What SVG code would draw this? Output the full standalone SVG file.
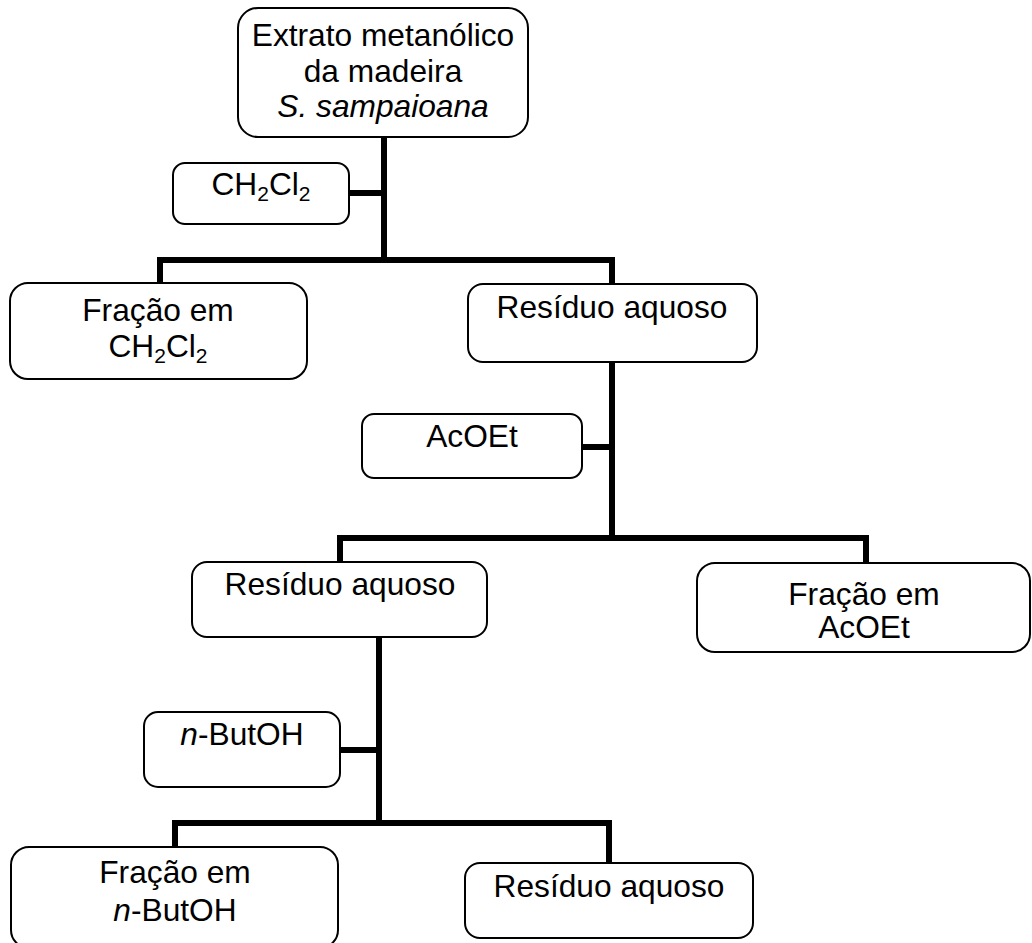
<svg xmlns="http://www.w3.org/2000/svg" width="1032" height="943" viewBox="0 0 1032 943">
  <style>
    .box { fill: #ffffff; stroke: #000000; stroke-width: 2; }
    .lbl { font-family: "Liberation Sans", Arial, sans-serif; font-size: 31.7px; fill: #000000; text-anchor: middle; }
    .sub { font-size: 21px; }
    .wire { fill: none; stroke: #000000; stroke-width: 6; stroke-linejoin: miter; stroke-linecap: butt; }
  </style>

  <!-- connectors -->
  <g id="connectors">
    <path class="wire" d="M384,137 V263"/>
    <path class="wire" d="M349,193 H384"/>
    <path class="wire" d="M160,284 V260 H612 V284"/>
    <path class="wire" d="M612,362 V541"/>
    <path class="wire" d="M582,447 H612"/>
    <path class="wire" d="M340,562 V538 H866 V563"/>
    <path class="wire" d="M379,637 V826"/>
    <path class="wire" d="M340,750 H379"/>
    <path class="wire" d="M175,847 V823 H609 V863"/>
  </g>

  <g id="extrato">
    <rect class="box" x="238" y="8" width="290" height="129" rx="20"/>
    <text class="lbl" x="383" y="46">Extrato metanólico</text>
    <text class="lbl" x="383" y="82">da madeira</text>
    <text class="lbl" x="383" y="117" font-style="italic">S. sampaioana</text>
  </g>

  <g id="solvente-ch2cl2">
    <rect class="box" x="173" y="163" width="176" height="61" rx="12"/>
    <text class="lbl" x="261" y="195">CH<tspan class="sub" dy="6">2</tspan><tspan dy="-6">Cl</tspan><tspan class="sub" dy="6">2</tspan></text>
  </g>

  <g id="fracao-ch2cl2">
    <rect class="box" x="10" y="283" width="297" height="96" rx="18"/>
    <text class="lbl" x="158" y="321">Fração em</text>
    <text class="lbl" x="158" y="357">CH<tspan class="sub" dy="6">2</tspan><tspan dy="-6">Cl</tspan><tspan class="sub" dy="6">2</tspan></text>
  </g>

  <g id="residuo-1">
    <rect class="box" x="468" y="284" width="289" height="78" rx="15"/>
    <text class="lbl" x="612" y="318">Resíduo aquoso</text>
  </g>

  <g id="solvente-acoet">
    <rect class="box" x="362" y="414" width="220" height="64" rx="12"/>
    <text class="lbl" x="472" y="447">AcOEt</text>
  </g>

  <g id="residuo-2">
    <rect class="box" x="192" y="562" width="295" height="75" rx="15"/>
    <text class="lbl" x="340" y="595">Resíduo aquoso</text>
  </g>

  <g id="fracao-acoet">
    <rect class="box" x="697" y="563" width="333" height="89" rx="18"/>
    <text class="lbl" x="864" y="605">Fração em</text>
    <text class="lbl" x="864" y="638">AcOEt</text>
  </g>

  <g id="solvente-butoh">
    <rect class="box" x="144" y="712" width="196" height="75" rx="14"/>
    <text class="lbl" x="242" y="745"><tspan font-style="italic">n</tspan>-ButOH</text>
  </g>

  <g id="fracao-butoh">
    <rect class="box" x="11" y="847" width="327" height="101" rx="18"/>
    <text class="lbl" x="175" y="883">Fração em</text>
    <text class="lbl" x="175" y="921"><tspan font-style="italic">n</tspan>-ButOH</text>
  </g>

  <g id="residuo-3">
    <rect class="box" x="465" y="863" width="288" height="75" rx="15"/>
    <text class="lbl" x="609" y="897">Resíduo aquoso</text>
  </g>
</svg>
